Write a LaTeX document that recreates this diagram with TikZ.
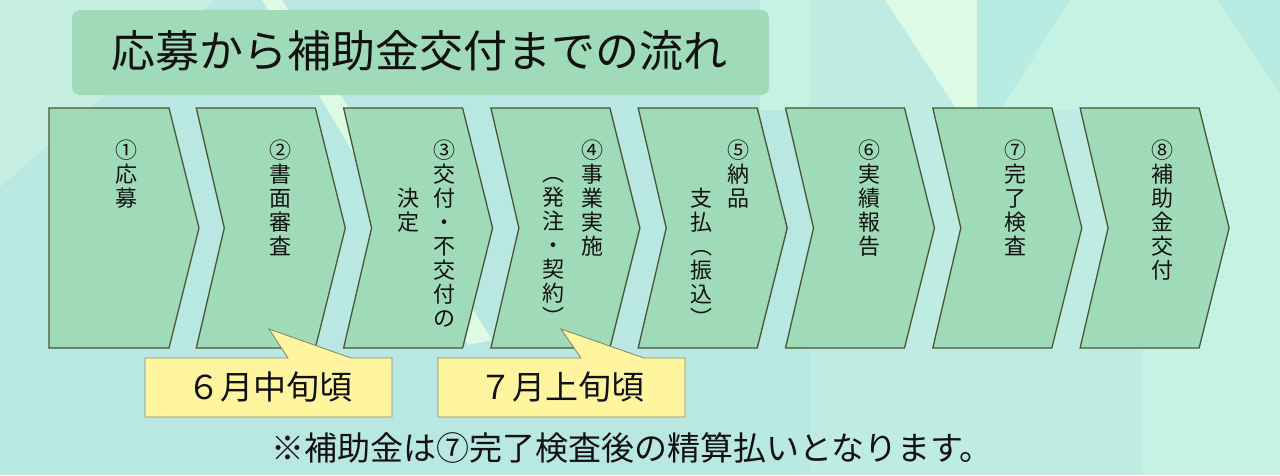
\documentclass[tikz,border=0pt]{standalone}
\usepackage{fontspec}
\newfontfamily\jp{Noto Sans CJK JP}
\definecolor{bgbase}{HTML}{B9E8E2}
\definecolor{bgmid}{HTML}{BFECE2}
\definecolor{bgright}{HTML}{C5F2E3}
\definecolor{bglight}{HTML}{DDFAE4}
\definecolor{bgtl}{HTML}{C6EEE3}
\definecolor{bgdark}{HTML}{B8ECE2}
\definecolor{chevfill}{HTML}{9FDBB9}
\definecolor{chevline}{HTML}{4A5436}
\definecolor{calfill}{HTML}{FFF59F}
\definecolor{calline}{HTML}{8A8A70}
\definecolor{ink}{HTML}{111111}
\begin{document}
\begin{tikzpicture}[x=1pt,y=-1pt,
  chev/.style={fill=chevfill,draw=chevline,line width=1.3pt,line join=miter},
  callout/.style={fill=calfill,draw=calline,line width=0.9pt},
  vcol/.style={font=\jp\fontsize{22}{24}\selectfont,align=center,inner sep=0pt,anchor=north,text=ink},
  caltext/.style={font=\jp\fontsize{33}{36}\selectfont,inner sep=0pt,text=ink},
]
\useasboundingbox (0,0) rectangle (1280,475);
% background
\fill[bgbase] (0,0) rectangle (1280,475);
\fill[bgtl] (0,0) -- (215,0) -- (0,187) -- cycle;
\fill[bgright] (760,0) rectangle (810,110);
\fill[bgmid] (810,0) rectangle (1143,475);
\fill[bgright] (1143,0) rectangle (1280,475);
\fill[bgright] (1070,0) -- (1143,0) -- (1143,110) -- (1000,110) -- cycle;
\fill[bglight] (885,0) -- (977,0) -- (977,140) -- cycle;
\fill[bgdark] (977,0) -- (1070,0) -- (977,146) -- cycle;
\fill[bgdark] (1217,0) -- (1280,0) -- (1280,95) -- cycle;
\fill[bglight] (262,0) -- (282,0) -- (492,340) -- (468,345) -- cycle;
% title
\fill[chevfill,rounded corners=8pt] (72,10) rectangle (769,95);
\node[font=\jp\fontsize{44}{48}\selectfont,inner sep=0pt,text=ink] (title) at (419,51) {応募から補助金交付までの流れ};
% chevrons
\draw[chev] (49,108) -- (169,108) -- (199,228) -- (169,348) -- (49,348) -- cycle;
\foreach \i in {1,...,7}{
  \pgfmathsetmacro{\L}{49+147.3*\i}
  \draw[chev] (\L,108) -- ({\L+119},108) -- ({\L+149},228) -- ({\L+119},348) -- (\L,348) -- ({\L+28},228) -- cycle;
}
% chevron texts
\node[vcol] (c1) at (126,140) {\vphantom{国}①\\応\\募};
\node[vcol] (c2) at (280,140) {\vphantom{国}②\\書\\面\\審\\査};
\node[vcol] (c3a) at (444,140) {\vphantom{国}③\\交\\付\\・\\不\\交\\付\\の};
\node[vcol] (c3b) at (408,188) {\vphantom{国}決\\定};
\node[vcol] (c4a) at (592,140) {\vphantom{国}④\\事\\業\\実\\施};
\node[vcol] (c4b) at (553,164) {\vphantom{国}︵\\発\\注\\・\\契\\約\\︶};
\node[vcol] (c5a) at (738,140) {\vphantom{国}⑤\\納\\品};
\node[vcol] (c5b) at (701,188) {\vphantom{国}支\\払\\︵\\振\\込\\︶};
\node[vcol] (c6) at (869,140) {\vphantom{国}⑥\\実\\績\\報\\告};
\node[vcol] (c7) at (1015,140) {\vphantom{国}⑦\\完\\了\\検\\査};
\node[vcol] (c8) at (1162,140) {\vphantom{国}⑧\\補\\助\\金\\交\\付};
% callouts
\draw[callout] (145,358) -- (288,358) -- (269,329) -- (351,358) -- (392,358) -- (392,417) -- (145,417) -- cycle;
\draw[callout] (438,358) -- (581,358) -- (561,329) -- (644,358) -- (685,358) -- (685,417) -- (438,417) -- cycle;
\node[caltext] (k1) at (270,387) {６月中旬頃};
\node[caltext] (k2) at (562,387) {７月上旬頃};
% note
\node[caltext] (note) at (632,448) {※補助金は⑦完了検査後の精算払いとなります。};
\end{tikzpicture}
\end{document}
